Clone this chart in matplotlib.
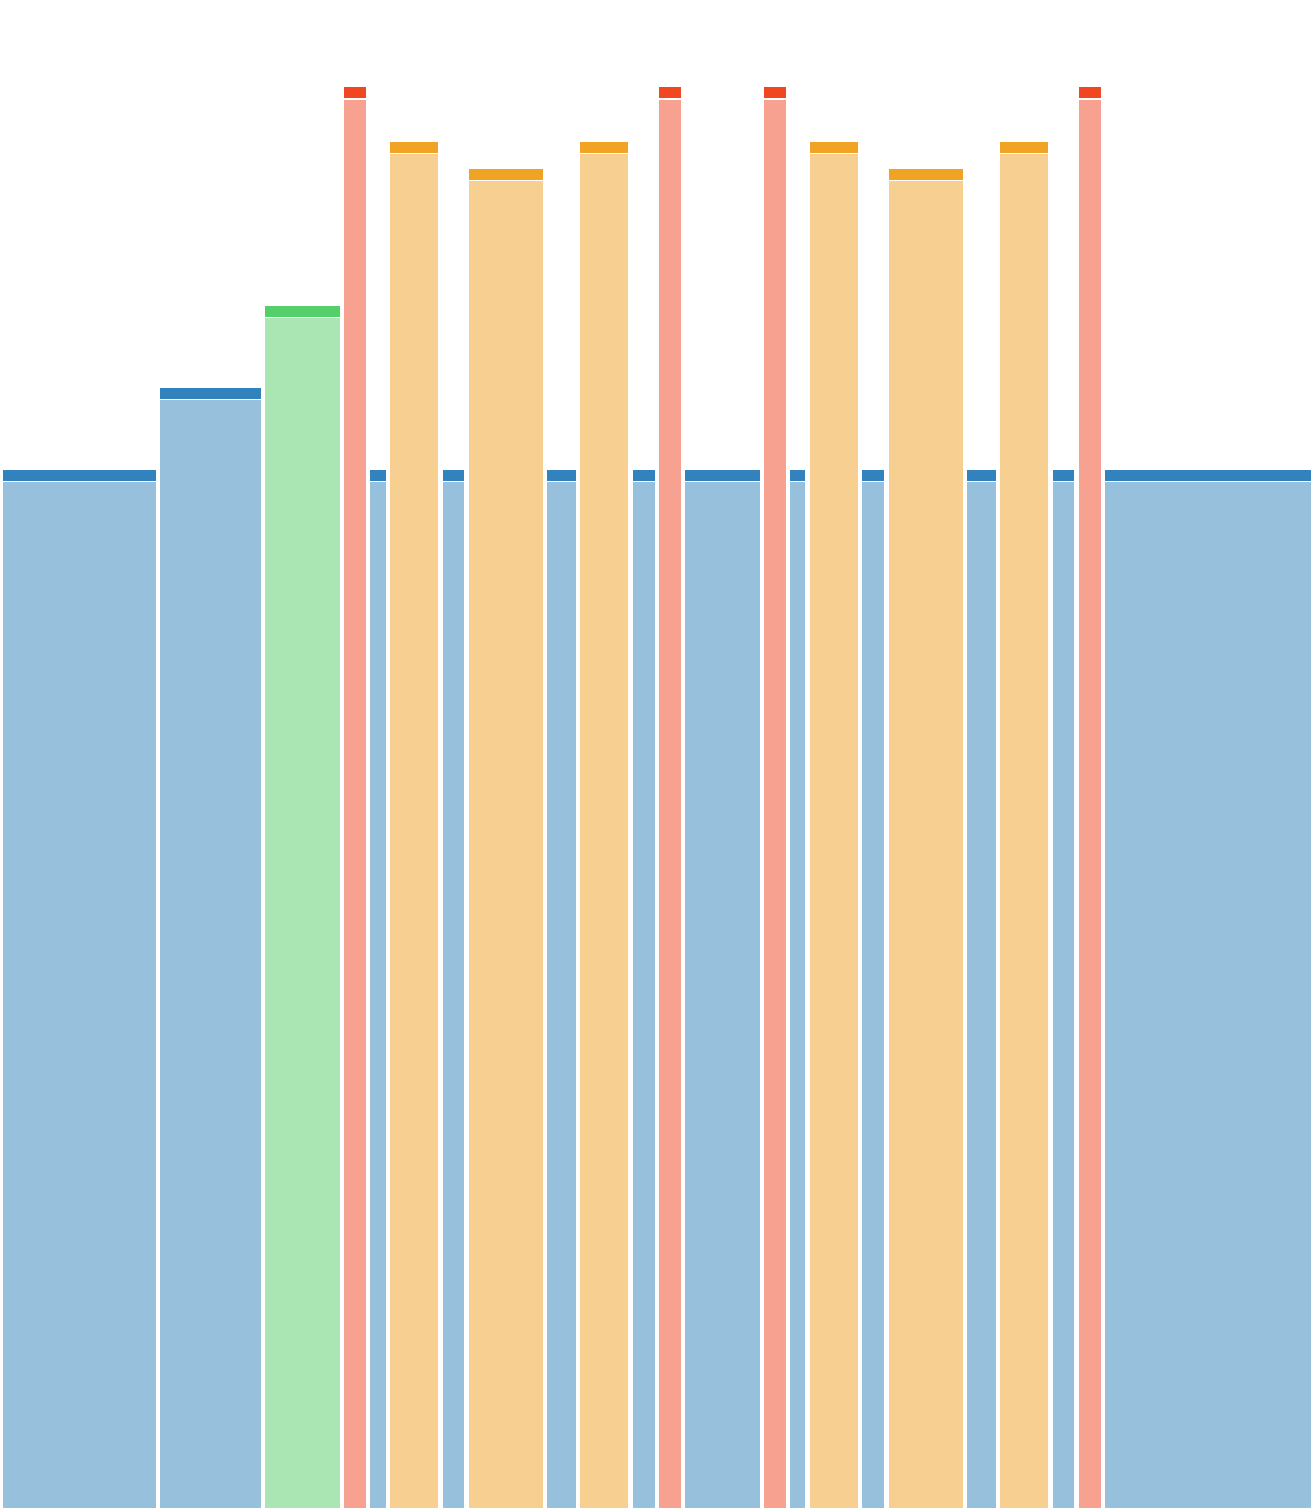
import matplotlib
matplotlib.use("Agg")
import matplotlib.pyplot as plt
import numpy as np

# Data: segment widths (units), bar values, and colour group
widths = [24, 16, 12, 4, 3, 8, 4, 12, 5, 8, 4, 4, 12, 4, 3, 8, 4, 12, 5, 8, 4, 4, 32]
values = [38, 41, 44, 52, 38, 50, 38, 49, 38, 50, 38, 52, 38, 52, 38, 50, 38, 49, 38, 50, 38, 52, 38]
groups = ["blue", "blue", "green", "red", "blue", "orange", "blue", "orange", "blue", "orange",
          "blue", "red", "blue", "red", "blue", "orange", "blue", "orange", "blue", "orange",
          "blue", "red", "blue"]

palette = {
    "blue": "#3182bd",
    "green": "#54cf69",
    "red": "#f04622",
    "orange": "#f0a325",
}

W, H, DPI = 1312, 1508, 100
fig = plt.figure(figsize=(W / DPI, H / DPI), dpi=DPI)
ax = fig.add_axes([0, 0, 1, 1])
total = sum(widths)
ymax = 55.18
px_x = total / W          # data units per pixel (x)
px_y = ymax / H           # data units per pixel (y)
shift = 0.8 * px_x
ax.set_xlim(-shift, total - shift)
ax.set_ylim(0, ymax)
ax.axis("off")

pad = 2.2 * px_x
cap = 11 * px_y
vgap = 1.6 * px_y

lefts = np.concatenate([[0], np.cumsum(widths)[:-1]])
for left, w, v, g in zip(lefts, widths, values, groups):
    c = palette[g]
    ax.bar(left + pad, v - cap - vgap, width=w - 2 * pad, bottom=0, align="edge",
           color=c, alpha=0.5, linewidth=0)
    ax.bar(left + pad, cap, width=w - 2 * pad, bottom=v - cap, align="edge",
           color=c, linewidth=0)

fig.savefig("out.png", dpi=DPI)
